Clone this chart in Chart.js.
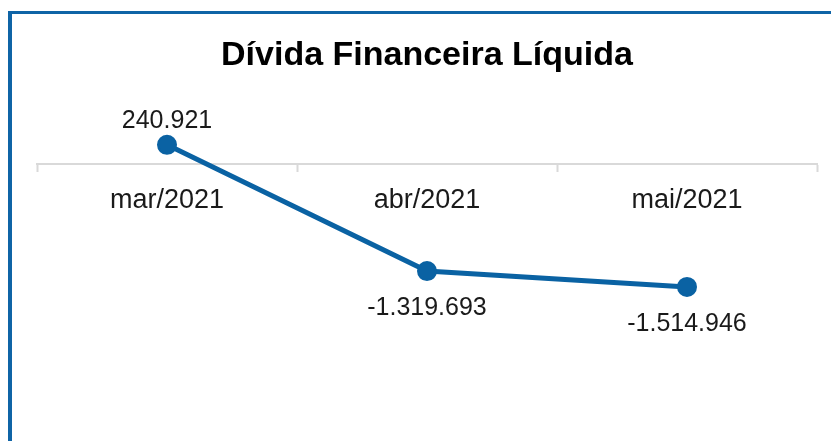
<!DOCTYPE html>
<html>
<head>
<meta charset="utf-8">
<script src="https://cdn.jsdelivr.net/npm/chart.js@4.4.1/dist/chart.umd.min.js"></script>
<style>
  html, body { margin: 0; padding: 0; background: #fff; }
  #wrap { position: relative; width: 831px; height: 441px; overflow: hidden; }
  #frame {
    position: absolute; left: 8px; top: 11px; width: 840px; height: 450px;
    border-left: 4px solid #0f64a6; border-top: 3px solid #0f64a6;
    box-sizing: border-box;
  }
  canvas { position: absolute; left: 0; top: 0; }
</style>
</head>
<body>
<div id="wrap">
  <div id="frame"></div>
  <canvas id="chart" width="831" height="441"></canvas>
</div>
<script>
// values
const months = ['mar/2021', 'abr/2021', 'mai/2021']
const dividaLiquida = [240921, -1319693, -1514946]
const chartTitle = 'Dívida Financeira Líquida'

const blue = '#0a62a3'
const textColor = '#1a1a1a'
const fontFamily = '"Liberation Sans", Arial, sans-serif'

// pt-BR thousands separator without relying on locale data
function formatBR (v) {
  const s = Math.abs(v).toString().replace(/\B(?=(\d{3})+(?!\d))/g, '.')
  return (v < 0 ? '-' : '') + s
}

// small replacement for chartjs-plugin-datalabels (not available offline)
const pointLabels = {
  id: 'pointLabels',
  afterDatasetsDraw (chart) {
    const ctx = chart.ctx
    const meta = chart.getDatasetMeta(0)
    ctx.save()
    ctx.font = '25px ' + fontFamily
    ctx.fillStyle = textColor
    ctx.textAlign = 'center'
    ctx.textBaseline = 'middle'
    meta.data.forEach((pt, i) => {
      const v = chart.data.datasets[0].data[i]
      const dy = v >= 0 ? -24 : 37
      ctx.fillText(formatBR(v), pt.x, pt.y + dy)
    })
    ctx.restore()
  }
}

const data = {
  labels: months,
  datasets: [{
    data: dividaLiquida,
    borderColor: blue,
    backgroundColor: blue,
    borderWidth: 5,
    pointRadius: 9,
    pointBorderWidth: 2,
    pointHoverRadius: 9,
    pointBackgroundColor: blue,
    pointBorderColor: blue,
    tension: 0
  }]
}

const options = {
  responsive: false,
  animation: false,
  layout: {
    padding: { left: 37, right: 14, top: 30, bottom: 17 }
  },
  scales: {
    x: {
      type: 'category',
      position: { y: 0 },
      offset: true,
      border: { display: true, color: '#d9d9d9', width: 2 },
      grid: {
        drawOnChartArea: false,
        drawTicks: true,
        tickLength: 7,
        tickWidth: 2,
        color: '#d9d9d9',
        offset: true
      },
      ticks: {
        padding: 13,
        color: textColor,
        font: { family: fontFamily, size: 27 }
      }
    },
    y: {
      display: false,
      min: -3210000,
      max: 600000
    }
  },
  plugins: {
    legend: { display: false },
    tooltip: { enabled: false },
    title: {
      display: true,
      text: chartTitle,
      color: '#000',
      font: { family: fontFamily, size: 34, weight: 'bold' },
      padding: { top: 5, bottom: 40 }
    }
  }
}

new Chart(document.getElementById('chart').getContext('2d'), {
  type: 'line',
  data,
  options,
  plugins: [pointLabels]
})
</script>
</body>
</html>
